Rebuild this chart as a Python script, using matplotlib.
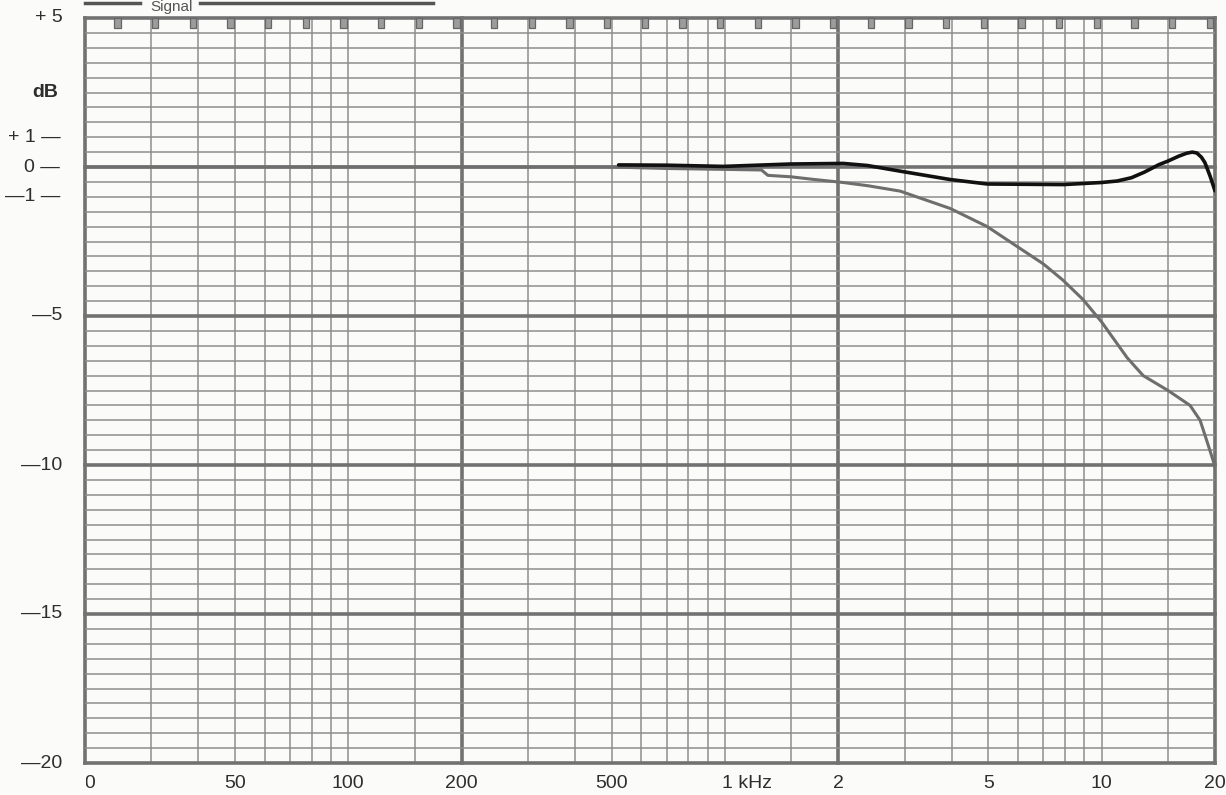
import numpy as np
import matplotlib
matplotlib.use("Agg")
import matplotlib.pyplot as plt
from matplotlib.patches import Rectangle
from matplotlib.lines import Line2D
from matplotlib.transforms import Bbox, TransformedBbox

# traces read from the paper
grey_freq = [20, 100, 500, 700, 1000, 1250, 1300, 1500, 1700, 2060, 2400, 2920, 3960,
             4970, 5970, 7000, 7900, 8930, 10000, 11690, 12890, 15010, 17170, 18260,
             19150, 20000]
grey_db = [0, 0, 0, -0.05, -0.08, -0.1, -0.28, -0.33, -0.41, -0.52, -0.63, -0.81, -1.39,
           -2.0, -2.67, -3.25, -3.8, -4.45, -5.2, -6.4, -7.0, -7.5, -8.0, -8.5,
           -9.3, -10.05]

black_freq = [522, 704, 990, 1490, 2060, 2390, 2920, 3960, 4970, 7900, 10000, 11000,
              12000, 13000, 14200, 15010, 16000, 16800, 17400, 17900, 18400, 18800,
              19400, 20000]
black_db = [0.07, 0.06, 0.02, 0.1, 0.12, 0.05, -0.14, -0.42, -0.57, -0.59, -0.52, -0.47,
            -0.36, -0.17, 0.08, 0.2, 0.36, 0.46, 0.5, 0.47, 0.33, 0.15, -0.3, -0.8]

x_labels = ["20", "50", "100", "200", "500", "1 kHz", "2", "5", "10", "20"]
x_label_freq = [20, 50, 100, 200, 500, 1000, 2000, 5000, 10000, 20000]
y_labels = ["+ 5", "+ 1 \u2014", "0 \u2014", "\u20141 \u2014", "\u20145", "\u201410", "\u201415", "\u201420"]
y_label_db = [5, 1, 0, -1, -5, -10, -15, -20]

decades = [20, 200, 2000]
steps = [1, 1.5, 2, 2.5, 3, 3.5, 4, 4.5, 5, 7.5]
grid_freq = [d * s for d in decades for s in steps] + [20000]
thick_freq = [20, 200, 2000, 20000]
grid_db = np.arange(-20, 5.01, 0.5)

paper = "#fbfbf9"
thin = "#8e8e8e"
thick = "#727272"
txt = "#2e2e2e"

fig = plt.figure(figsize=(12.26, 7.95), dpi=100, facecolor=paper)
ax = fig.add_axes([85 / 1226, 1 - 763 / 795, 1130 / 1226, 745 / 795], facecolor=paper)
ax.set_xscale("log")
ax.set_xlim(20, 20000)
ax.set_ylim(-20, 5)
for s in ax.spines.values():
    s.set_visible(False)
ax.set_xticks([])
ax.set_yticks([])
ax.minorticks_off()

for f in grid_freq:
    if f in thick_freq:
        ax.axvline(f, color=thick, lw=2.6, clip_on=False, zorder=1)
    else:
        ax.axvline(f, color=thin, lw=1.1, zorder=1)
for d in grid_db:
    if d % 5 == 0:
        ax.axhline(d, color=thick, lw=2.6, clip_on=False, zorder=1)
    else:
        ax.axhline(d, color=thin, lw=1.1, zorder=1)

# perforation marks under the top edge
for i in range(30):
    ax.add_patch(Rectangle((0.026 + i / 30, 1 - 0.013), 0.0055, 0.013, transform=ax.transAxes,
                           facecolor="#9c9c9c", edgecolor="#666666", lw=0.9, zorder=3, clip_on=False))

ax.plot(grey_freq, grey_db, color="#6e6e6e", lw=2.2, zorder=4)
ax.plot(black_freq, black_db, color="#111111", lw=2.6, zorder=5, solid_capstyle="round")

ytr = ax.get_yaxis_transform()
for lab, d in zip(y_labels, y_label_db):
    xr = -0.022 if lab.endswith("\u2014") else -0.02
    ax.text(xr, d, lab, transform=ytr, ha="right", va="center", fontsize=14,
            family="Liberation Sans", color=txt)
ax.text(-0.035, 2.5, "dB", transform=ytr, ha="center", va="center", fontsize=14,
        family="Liberation Sans", fontweight="bold", color=txt)

xtr = ax.get_xaxis_transform()
clip = TransformedBbox(Bbox([[86 / 1226, 0], [1, 1]]), fig.transFigure)
for lab, f in zip(x_labels, x_label_freq):
    if lab.endswith("kHz"):
        t = ax.text(f * 0.985, -0.028, lab, transform=xtr, ha="left", va="center", fontsize=14,
                    family="Liberation Sans", color=txt)
    else:
        t = ax.text(f, -0.028, lab, transform=xtr, ha="center", va="center", fontsize=14,
                    family="Liberation Sans", color=txt)
    t.set_clip_box(clip)
    t.set_clip_on(True)

# legend strip at the top of the sheet
fig.text(150 / 1226, 1 - 11 / 795, "Signal", fontsize=11, family="Liberation Sans",
         color="#555555", va="baseline")
fig.add_artist(Line2D([85 / 1226, 140 / 1226], [1 - 3 / 795] * 2, color="#555555", lw=2.5))
fig.add_artist(Line2D([200 / 1226, 433 / 1226], [1 - 3 / 795] * 2, color="#555555", lw=2.5))

fig.savefig("out.png", dpi=100, facecolor=paper)
